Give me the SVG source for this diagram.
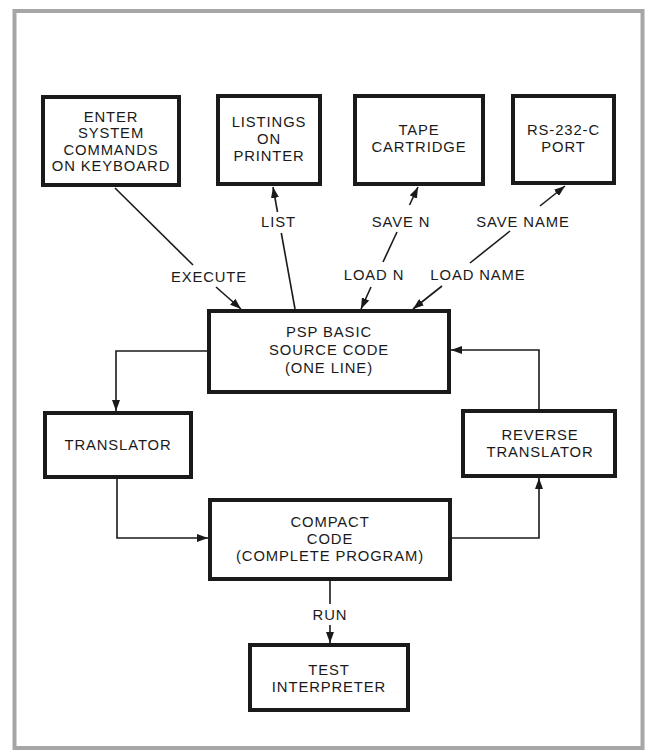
<svg xmlns="http://www.w3.org/2000/svg" width="650" height="755" viewBox="0 0 650 755">
<style>
.box{fill:#fff;stroke:#1a1a1a;stroke-width:4}
.ln{fill:none;stroke:#1a1a1a;stroke-width:1.6}
text{font-family:"Liberation Sans",Arial,sans-serif;font-size:14.8px;letter-spacing:0.9px;fill:#1a1a1a;text-anchor:middle}
</style>
<defs>
<marker id="ah" markerUnits="userSpaceOnUse" markerWidth="12" markerHeight="8" refX="11" refY="4" orient="auto-start-reverse">
<path d="M0,0 L11,4 L0,8 z" fill="#1a1a1a"/>
</marker>
</defs>
<rect x="0" y="0" width="650" height="755" fill="#fff"/>
<rect x="14.5" y="11" width="628" height="737" fill="none" stroke="#a6a6a6" stroke-width="4"/>

<g id="connectors">
<!-- EXECUTE -->
<line class="ln" x1="115" y1="188" x2="193" y2="265"/>
<line class="ln" x1="216" y1="287" x2="241" y2="309" marker-end="url(#ah)"/>
<text x="209" y="282">EXECUTE</text>
<!-- LIST -->
<line class="ln" x1="295" y1="309" x2="281.3" y2="233"/>
<line class="ln" x1="277.5" y1="212" x2="273" y2="187" marker-end="url(#ah)"/>
<text x="278.5" y="227">LIST</text>
<!-- SAVE N / LOAD N -->
<line class="ln" x1="418" y1="187" x2="409.5" y2="205" marker-start="url(#ah)"/>
<line class="ln" x1="397" y1="232" x2="383" y2="262"/>
<line class="ln" x1="371" y1="287" x2="361" y2="309" marker-end="url(#ah)"/>
<text x="401" y="227">SAVE N</text>
<text x="374" y="280">LOAD N</text>
<!-- SAVE NAME / LOAD NAME -->
<line class="ln" x1="565" y1="186" x2="540" y2="206" marker-start="url(#ah)"/>
<line class="ln" x1="510" y1="231" x2="470" y2="263"/>
<line class="ln" x1="442" y1="286" x2="413" y2="309" marker-end="url(#ah)"/>
<text x="523" y="227">SAVE NAME</text>
<text x="478" y="280">LOAD NAME</text>
<!-- PSP to TRANSLATOR -->
<polyline class="ln" points="207,351 116,351 116,411" marker-end="url(#ah)"/>
<!-- TRANSLATOR to COMPACT -->
<polyline class="ln" points="117,479 117,538 208,538" marker-end="url(#ah)"/>
<!-- COMPACT to REVERSE -->
<polyline class="ln" points="452,538 539,538 539,478" marker-end="url(#ah)"/>
<!-- REVERSE to PSP -->
<polyline class="ln" points="539,409 539,350 451,350" marker-end="url(#ah)"/>
<!-- RUN -->
<line class="ln" x1="330" y1="581" x2="330" y2="604"/>
<line class="ln" x1="330" y1="625" x2="330" y2="643" marker-end="url(#ah)"/>
<text x="330" y="620">RUN</text>
</g>

<g id="enter">
<rect class="box" x="43" y="97" width="136" height="88"/>
<text x="111" y="121.5">ENTER</text>
<text x="111" y="138">SYSTEM</text>
<text x="111" y="154.5">COMMANDS</text>
<text x="111" y="171">ON KEYBOARD</text>
</g>
<g id="listings">
<rect class="box" x="218" y="96" width="102" height="88"/>
<text x="269" y="127">LISTINGS</text>
<text x="269" y="144">ON</text>
<text x="269" y="161">PRINTER</text>
</g>
<g id="tape">
<rect class="box" x="355" y="96" width="128" height="88"/>
<text x="419" y="135">TAPE</text>
<text x="419" y="152">CARTRIDGE</text>
</g>
<g id="rs232">
<rect class="box" x="513" y="96" width="101" height="87"/>
<text x="563.5" y="135">RS-232-C</text>
<text x="563.5" y="152">PORT</text>
</g>
<g id="psp">
<rect class="box" x="209" y="311" width="240" height="81"/>
<text x="329" y="337">PSP BASIC</text>
<text x="329" y="355">SOURCE CODE</text>
<text x="329" y="373">(ONE LINE)</text>
</g>
<g id="translator">
<rect class="box" x="45" y="413" width="146" height="64"/>
<text x="118" y="450">TRANSLATOR</text>
</g>
<g id="reverse">
<rect class="box" x="463" y="411" width="152" height="65"/>
<text x="540" y="440">REVERSE</text>
<text x="540" y="457">TRANSLATOR</text>
</g>
<g id="compact">
<rect class="box" x="210" y="500" width="240" height="79"/>
<text x="330" y="527">COMPACT</text>
<text x="330" y="543.5">CODE</text>
<text x="330" y="560.5">(COMPLETE PROGRAM)</text>
</g>
<g id="test">
<rect class="box" x="250" y="645" width="158" height="65"/>
<text x="329" y="675">TEST</text>
<text x="329" y="692">INTERPRETER</text>
</g>
</svg>
